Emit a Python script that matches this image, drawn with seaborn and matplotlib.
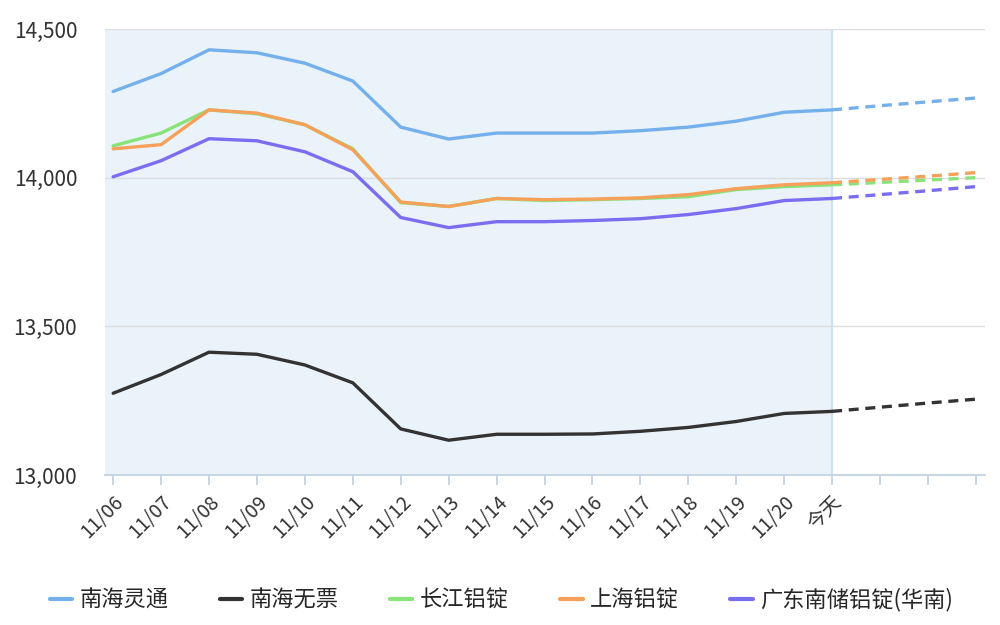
import pandas as pd
import numpy as np
import matplotlib
matplotlib.use("Agg")
import matplotlib.pyplot as plt
import seaborn as sns

# categories on the x axis (last three are future days without labels)
dates = ["11/06", "11/07", "11/08", "11/09", "11/10", "11/11", "11/12", "11/13",
         "11/14", "11/15", "11/16", "11/17", "11/18", "11/19", "11/20", "今天"]
future_labels = ["", "", ""]

series_names = ["南海灵通", "南海无票", "长江铝锭", "上海铝锭", "广东南储铝锭(华南)"]

# historical prices
nanhai_lingtong = [14290, 14350, 14430, 14420, 14385, 14325, 14170, 14130,
                   14150, 14150, 14150, 14158, 14170, 14190, 14220, 14228]
nanhai_wupiao = [13275, 13338, 13413, 13406, 13370, 13310, 13155, 13117,
                 13137, 13137, 13138, 13147, 13160, 13180, 13207, 13214]
changjiang = [14107, 14150, 14228, 14215, 14178, 14097, 13916, 13903,
              13930, 13923, 13926, 13930, 13936, 13960, 13970, 13976]
shanghai = [14097, 14111, 14228, 14217, 14178, 14094, 13918, 13903,
            13930, 13926, 13928, 13932, 13943, 13963, 13976, 13983]
guangdong = [14003, 14057, 14131, 14124, 14087, 14020, 13866, 13832,
             13852, 13852, 13856, 13862, 13876, 13896, 13923, 13930]

# forecast (dashed) values for the three days after today
fc_lingtong = [14242, 14255, 14268]
fc_wupiao = [13228, 13242, 13255]
fc_changjiang = [13984, 13992, 14000]
fc_shanghai = [13994, 14005, 14017]
fc_guangdong = [13943, 13956, 13970]

colors = ["#74b0ec", "#333333", "#87e37a", "#f6a05a", "#7a6ef0"]
palette = dict(zip(series_names, colors))

hist = [nanhai_lingtong, nanhai_wupiao, changjiang, shanghai, guangdong]
fc = [fc_lingtong, fc_wupiao, fc_changjiang, fc_shanghai, fc_guangdong]

n_hist = len(dates)
rows_h, rows_f = [], []
for name, h, f in zip(series_names, hist, fc):
    for i, v in enumerate(h):
        rows_h.append({"x": i, "price": v, "series": name})
    # forecast starts from today's value
    rows_f.append({"x": n_hist - 1, "price": h[-1], "series": name})
    for j, v in enumerate(f):
        rows_f.append({"x": n_hist + j, "price": v, "series": name})
df_h = pd.DataFrame(rows_h)
df_f = pd.DataFrame(rows_f)

sns.set_style("white")
plt.rcParams["font.family"] = ["Noto Sans CJK SC", "DejaVu Sans"]

fig = plt.figure(figsize=(10, 6.25), dpi=100)
ax = fig.add_axes([0.105, 0.24, 0.88, 0.7136])

x_left, x_right = -0.17, 18.19
ax.axvspan(x_left, n_hist - 1, color="#eaf2fa", zorder=0, lw=0)
ax.axvline(n_hist - 1, color="#cfe0f0", lw=1.5, zorder=1)

sns.lineplot(data=df_h, x="x", y="price", hue="series", hue_order=series_names,
             palette=palette, linewidth=2.4, ax=ax, zorder=3)
n_before = len(ax.get_lines())
sns.lineplot(data=df_f, x="x", y="price", hue="series", hue_order=series_names,
             palette=palette, linewidth=2.4, ax=ax, legend=False, zorder=3)
# make the forecast lines dashed
for line in ax.get_lines()[n_before:]:
    line.set_linestyle((0, (3, 2)))

ax.set_xlim(x_left, x_right)
ax.set_ylim(13000, 14500)
ax.set_yticks([13000, 13500, 14000, 14500])
ax.set_yticklabels(["13,000", "13,500", "14,000", "14,500"], fontsize=15, color="#333333")
ax.yaxis.grid(True, color="#dddddd", lw=1)
ax.set_axisbelow(True)

ax.set_xticks(range(n_hist + len(future_labels)))
ax.set_xticklabels(dates + future_labels, rotation=45, ha="right",
                   rotation_mode="anchor", fontsize=14, color="#333333")
ax.tick_params(axis="x", bottom=True, direction="out", length=7,
               color="#c4d3e2", width=1.3, pad=5)
ax.tick_params(axis="y", left=False, length=0, pad=20)
ax.set_xlabel("")
ax.set_ylabel("")

for s in ["top", "right", "left"]:
    ax.spines[s].set_visible(False)
ax.spines["bottom"].set_color("#c9d6e3")
ax.spines["bottom"].set_linewidth(1.5)

handles, labels = ax.get_legend_handles_labels()
ax.get_legend().remove()
leg = fig.legend(handles[:5], labels[:5], loc="center left", bbox_to_anchor=(0.03, 0.04),
                 ncol=5, frameon=False, fontsize=16, handlelength=1.0,
                 columnspacing=2.3, handletextpad=0.35)
for lh in leg.get_lines():
    lh.set_linewidth(3)
    lh.set_linestyle("-")

fig.savefig("out.png", dpi=100)
